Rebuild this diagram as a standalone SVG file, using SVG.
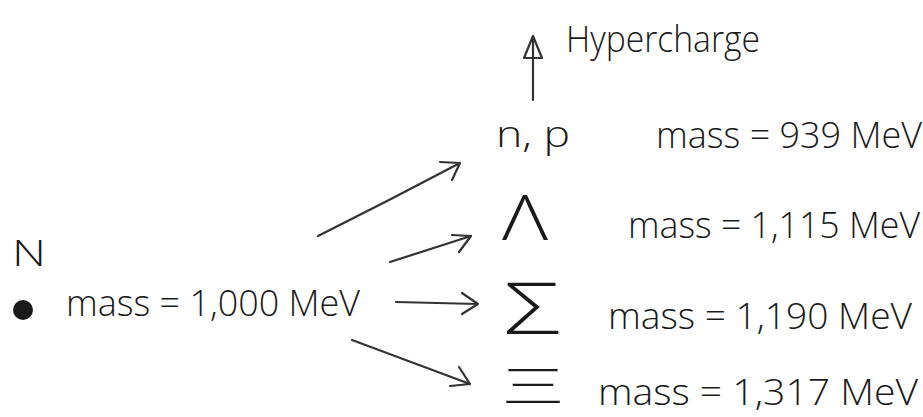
<svg xmlns="http://www.w3.org/2000/svg" width="923" height="417" viewBox="0 0 923 417">
<style>
.t{font-family:"Open Sans","Liberation Sans",sans-serif;font-weight:300;fill:#1a1a1a;font-size:36px}
.g{font-family:"Open Sans","Liberation Sans",sans-serif;font-weight:300;fill:#1a1a1a}
.c{stroke:#333;stroke-width:2.2;fill:none;stroke-linecap:round;stroke-linejoin:round}
</style>
<rect width="923" height="417" fill="#fff"/>
<g id="nucleon">
<text class="t" x="12" y="266" font-size="44" textLength="34" lengthAdjust="spacingAndGlyphs">N</text>
<circle cx="23" cy="310" r="10" fill="#1a1a1a"/>
<text class="t" x="66" y="316" textLength="294" lengthAdjust="spacingAndGlyphs">mass = 1,000 MeV</text>
</g>
<g id="hypercharge">
<text class="t" x="566" y="52" font-size="46" textLength="194" lengthAdjust="spacingAndGlyphs">Hypercharge</text>
</g>
<g id="np">
<text class="t" x="496" y="147" font-size="42" textLength="74" lengthAdjust="spacingAndGlyphs">n, p</text>
<text class="t" x="656" y="148" textLength="266" lengthAdjust="spacingAndGlyphs">mass = 939 MeV</text>
</g>
<g id="lambda">
<text class="g" x="502" y="240" font-size="62" textLength="46" lengthAdjust="spacingAndGlyphs">Λ</text>
<text class="t" x="628" y="238" textLength="292" lengthAdjust="spacingAndGlyphs">mass = 1,115 MeV</text>
</g>
<g id="sigma">
<text class="g" x="504" y="334" font-size="72" textLength="56" lengthAdjust="spacingAndGlyphs">Σ</text>
<text class="t" x="608" y="329" textLength="304" lengthAdjust="spacingAndGlyphs">mass = 1,190 MeV</text>
</g>
<g id="xi">
<text class="g" x="504" y="403" font-size="48" textLength="58" lengthAdjust="spacingAndGlyphs">Ξ</text>
<text class="t" x="598" y="405" font-size="34" textLength="320" lengthAdjust="spacingAndGlyphs">mass = 1,317 MeV</text>
</g>
<g id="connectors">
<path class="c" d="M533 100 L533 40 M524 58 L533 36 L542 58 Z"/>
<path class="c" d="M318 236 Q390 200 460 163 M440 162 L460 163 L452 180"/>
<path class="c" d="M390 262 L471 236 M452 235 L471 236 L459 252"/>
<path class="c" d="M396 302 L478 304 M462 293 L478 304 L462 314"/>
<path class="c" d="M352 340 L470 384 M459 367 L470 384 L450 386"/>
</g>
</svg>
